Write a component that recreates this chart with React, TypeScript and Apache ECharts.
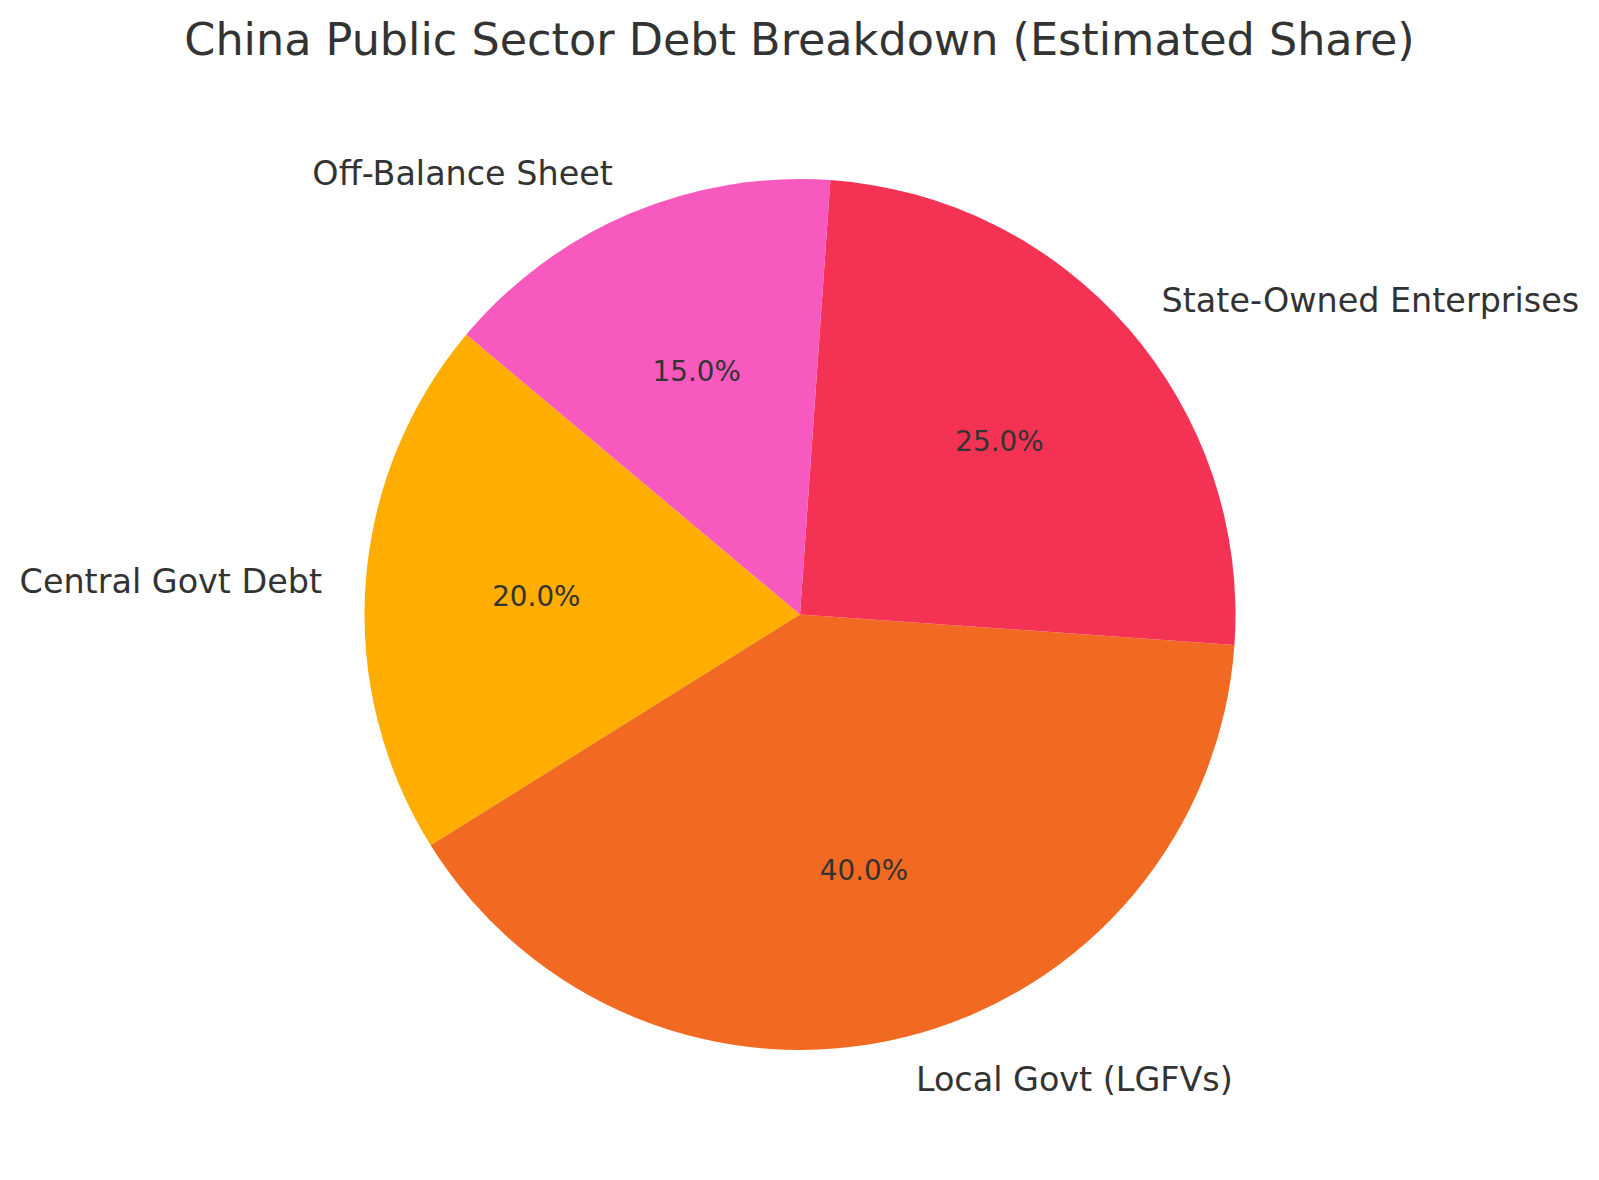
import React, { useEffect, useRef } from "react";
import * as echarts from "echarts";

const categories = ["Central Govt Debt", "Local Govt (LGFVs)", "State-Owned Enterprises", "Off-Balance Sheet"];
const shares = [20, 40, 25, 15];
const colors = ["#FFAE00", "#F26A21", "#F43254", "#F759BF"];
const titleText = "China Public Sector Debt Breakdown (Estimated Share)";

const W = 1599;
const H = 1180;
const CX = 800;
const CY = 614.5;
const R = 435.5;
const FONT = "DejaVu Sans";

export default function App() {
  const ref = useRef<HTMLDivElement>(null);
  useEffect(() => {
    document.body.style.margin = "0";
    const chart = echarts.init(ref.current!, null, { renderer: "svg" });
    const data = categories.map((name, i) => ({ name, value: shares[i], itemStyle: { color: colors[i] } }));
    chart.setOption({
      animation: false,
      backgroundColor: "#ffffff",
      title: {
        text: titleText,
        left: "center",
        top: 12,
        textStyle: { fontFamily: FONT, fontSize: 44.5, fontWeight: "normal", color: "#333333" },
      },
      series: [
        {
          type: "pie",
          center: [CX, CY],
          radius: [0, R],
          startAngle: 140,
          clockwise: false,
          avoidLabelOverlap: false,
          silent: true,
          data,
          itemStyle: { borderWidth: 0 },
          label: {
            show: true,
            position: "outside",
            formatter: "{b}",
            fontFamily: FONT,
            fontSize: 33.4,
            color: "#333333",
            distanceToLabelLine: 0,
          },
          labelLine: { show: false, length: R * 0.1, length2: 0 },
        },
        {
          type: "pie",
          center: [CX, CY],
          radius: [0, R * 1.2],
          startAngle: 140,
          clockwise: false,
          avoidLabelOverlap: false,
          silent: true,
          z: 3,
          data: categories.map((name, i) => ({ name, value: shares[i] })),
          itemStyle: { color: "rgba(0,0,0,0)", borderWidth: 0 },
          label: {
            show: true,
            position: "inside",
            formatter: (p: any) => p.value.toFixed(1) + "%",
            fontFamily: FONT,
            fontSize: 27.8,
            color: "#333333",
          },
          labelLine: { show: false },
        },
      ],
    });
    return () => chart.dispose();
  }, []);
  return <div ref={ref} style={{ width: W, height: H }} />;
}
